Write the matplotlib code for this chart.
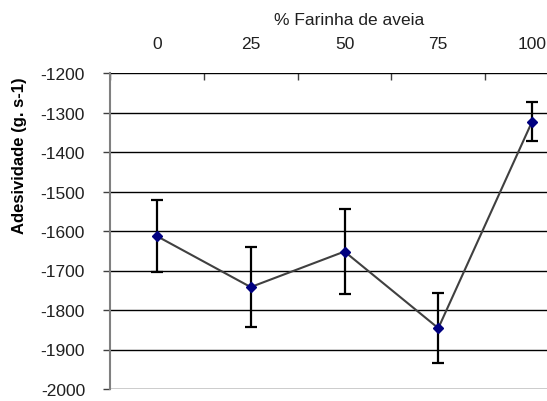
import matplotlib
matplotlib.use("Agg")
import matplotlib.pyplot as plt
import numpy as np

# data
farinha = ['0', '25', '50', '75', '100']
adesividade = [-1613, -1742, -1652, -1846, -1323]
erro = [92, 101, 107, 88, 50]

plt.rcParams['font.family'] = ['Liberation Sans', 'DejaVu Sans']
plt.rcParams['axes.unicode_minus'] = False

fig = plt.figure(figsize=(5.47, 4.02), dpi=100)
ax = fig.add_axes([110 / 547, 12 / 402, 469 / 547, 316 / 402])

x = np.arange(len(farinha))

ax.errorbar(x, adesividade, yerr=erro, fmt='none', ecolor='black',
            elinewidth=1.6, capsize=4, capthick=1.6, zorder=3)
ax.plot(x, adesividade, color='#404040', linewidth=1.5, zorder=4)
ax.plot(x, adesividade, linestyle='none', marker='D', markersize=5.5,
        color='#000080', zorder=5)

ax.set_ylim(-2000, -1200)
ax.set_yticks(np.arange(-2000, -1199, 100))
ax.set_xlim(-0.5, len(farinha) - 0.5)

# x axis on top, labels centered in each category
ax.xaxis.tick_top()
ax.xaxis.set_label_position('top')
ax.set_xticks(x)
ax.set_xticklabels(farinha)
ax.set_xticks(np.arange(-0.5, len(farinha)), minor=True)
ax.tick_params(axis='x', which='major', length=0, pad=16, labelsize=12.5,
               colors='#202020')
ax.tick_params(axis='x', which='minor', direction='in', length=5,
               width=1, color='#404040')
ax.tick_params(axis='y', direction='out', length=5, width=1, color='#404040',
               pad=13, labelsize=12.5, labelcolor='#202020')

ax.set_xlabel('% Farinha de aveia', fontsize=12.5, color='#202020')
ax.xaxis.set_label_coords(0.51, 1.155)
ax.set_ylabel('Adesividade (g. s-1)', fontsize=12, fontweight='bold')
ax.yaxis.set_label_coords(-0.176, 0.74)

ax.grid(axis='y', color='black', linewidth=1)
ax.set_axisbelow(True)
for s in ['right', 'bottom', 'top']:
    ax.spines[s].set_visible(False)
ax.spines['left'].set_color('#808080')
ax.spines['left'].set_linewidth(1.5)

fig.savefig('out.png', dpi=100)
